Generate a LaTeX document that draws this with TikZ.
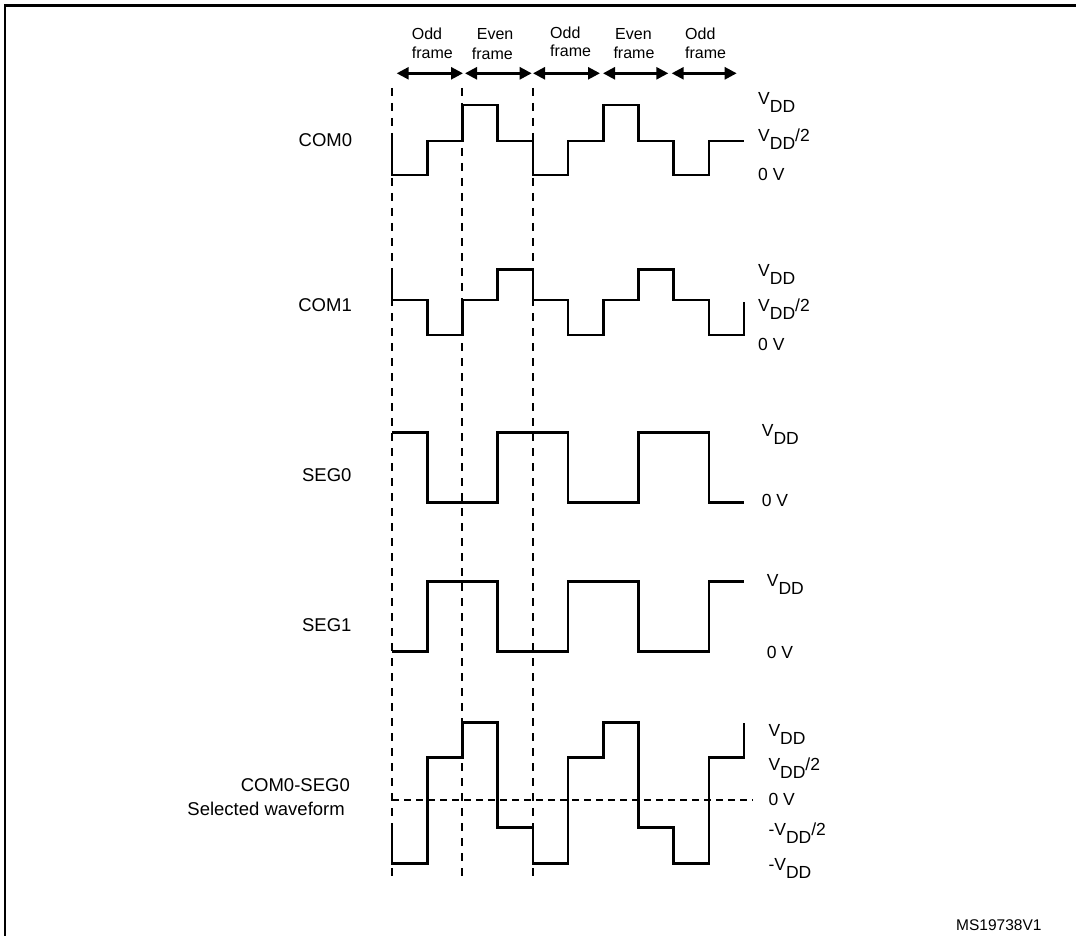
\documentclass[tikz,border=0pt]{standalone}
\usepackage{fontspec}
\setmainfont{Liberation Sans}
\usetikzlibrary{arrows.meta}
\newcommand{\vddtxt}{V\raisebox{-8pt}{DD}}
\begin{document}
\begin{tikzpicture}[x=1pt,y=-1pt,
  wave/.style={line width=2.6pt,line join=miter},
  grid/.style={line width=2pt,dash pattern=on 8pt off 7pt},
  zero/.style={line width=2pt,dash pattern=on 7pt off 5pt},
  frm/.style={line width=2.6pt,{Triangle[length=12pt,width=12pt]}-{Triangle[length=12pt,width=12pt]}},
  flab/.style={anchor=base west,inner sep=0pt,font=\fontsize{16}{18}\selectfont},
  slab/.style={anchor=base east,inner sep=0pt,font=\fontsize{18.5}{20}\selectfont},
  vlab/.style={anchor=base west,inner sep=0pt,font=\fontsize{17.5}{19}\selectfont},
  border/.style={line width=2.8pt}]
\useasboundingbox (0,0) rectangle (1076,936);
% border
\draw[border] (5,936) -- (5,5.5) -- (1076,5.5);
% frame labels
\node[flab] (o1a) at (411.7,40) {Odd};
\node[flab] (o1b) at (411.7,58.3) {frame};
\node[flab] (e1a) at (476.7,40) {Even};
\node[flab] (e1b) at (471.7,60) {frame};
\node[flab] (o2a) at (550,38.3) {Odd};
\node[flab] (o2b) at (550,56.7) {frame};
\node[flab] (e2a) at (615,40) {Even};
\node[flab] (e2b) at (613.3,58.3) {frame};
\node[flab] (o3a) at (685,40) {Odd};
\node[flab] (o3b) at (685,58.3) {frame};
% frame arrows
\coordinate (a0) at (396.7,73.3); \coordinate (a1) at (463,73.3);
\coordinate (b0) at (465,73.3);   \coordinate (b1) at (531.7,73.3);
\coordinate (c0) at (533,73.3);   \coordinate (c1) at (600,73.3);
\coordinate (d0) at (603,73.3);   \coordinate (d1) at (668.3,73.3);
\coordinate (f0) at (671.7,73.3); \coordinate (f1) at (736.7,73.3);
\draw[frm] (a0) -- (a1);
\draw[frm] (b0) -- (b1);
\draw[frm] (c0) -- (c1);
\draw[frm] (d0) -- (d1);
\draw[frm] (f0) -- (f1);
% dashed grid lines
\draw[grid] (392,88) -- (392,877);
\draw[grid] (462,88) -- (462,877);
\draw[grid] (533,88) -- (533,877);
\draw[zero] (392,800) -- (753,800);
% COM0
\draw[wave] (392,141) |- (427.2,175) |- (462.4,141) |- (497.6,105) |- (532.8,141) |- (568,175) |- (603.2,141) |- (638.4,105) |- (673.6,141) |- (708.8,175) |- (744,141);
% COM1
\draw[wave] (392,269.3) |- (427.2,300) |- (462.4,335) |- (497.6,300) |- (532.8,269.3) |- (568,300) |- (603.2,335) |- (638.4,300) |- (673.6,269.3) |- (708.8,300) |- (744,335) -- (744,302);
% SEG0
\draw[wave] (392,432.3) -- (427.2,432.3) |- (497.6,502.3) |- (568,432.3) |- (638.4,502.3) |- (708.8,432.3) |- (744,502.3);
% SEG1
\draw[wave] (392,651.7) -- (427.2,651.7) |- (497.6,581.7) |- (568,651.7) |- (638.4,581.7) |- (708.8,651.7) |- (744,581.7);
% COM0-SEG0
\draw[wave] (392,827.7) |- (427.2,863.3) |- (462.4,757.7) |- (497.6,722.7) |- (532.8,827.7) |- (568,863.3) |- (603.2,757.7) |- (638.4,722.7) |- (673.6,827.7) |- (708.8,863.3) |- (744,757.7) -- (744,722.7);
% left labels
\node[slab] (lc0) at (352.3,146.7) {COM0};
\node[slab] (lc1) at (352,311.7) {COM1};
\node[slab] (ls0) at (351.7,481.7) {SEG0};
\node[slab] (ls1) at (351.7,631.7) {SEG1};
\node[slab] (lcs) at (350,791.7) {COM0-SEG0};
\node[slab] (lsw) at (345,815) {Selected waveform};
% right labels COM0
\node[vlab] (r01) at (758,105) {\vddtxt};
\node[vlab] (r02) at (758,141.7) {\vddtxt/2};
\node[vlab] (r03) at (758,180.7) {0 V};
% COM1
\node[vlab] (r11) at (758,276.7) {\vddtxt};
\node[vlab] (r12) at (758,311.7) {\vddtxt/2};
\node[vlab] (r13) at (758,350) {0 V};
% SEG0
\node[vlab] (r21) at (761.7,436.7) {\vddtxt};
\node[vlab] (r22) at (761.7,506.7) {0 V};
% SEG1
\node[vlab] (r31) at (766.7,586.7) {\vddtxt};
\node[vlab] (r32) at (766.7,658.3) {0 V};
% COM0-SEG0
\node[vlab] (r41) at (768.3,736.7) {\vddtxt};
\node[vlab] (r42) at (768.3,770) {\vddtxt/2};
\node[vlab] (r43) at (768.3,805) {0 V};
\node[vlab] (r44) at (768.3,835) {-\vddtxt/2};
\node[vlab] (r45) at (768.3,870) {-\vddtxt};
% id
\node[anchor=base east,inner sep=0pt,font=\fontsize{15.5}{17}\selectfont] (id) at (1041.7,930) {MS19738V1};
\end{tikzpicture}
\end{document}
